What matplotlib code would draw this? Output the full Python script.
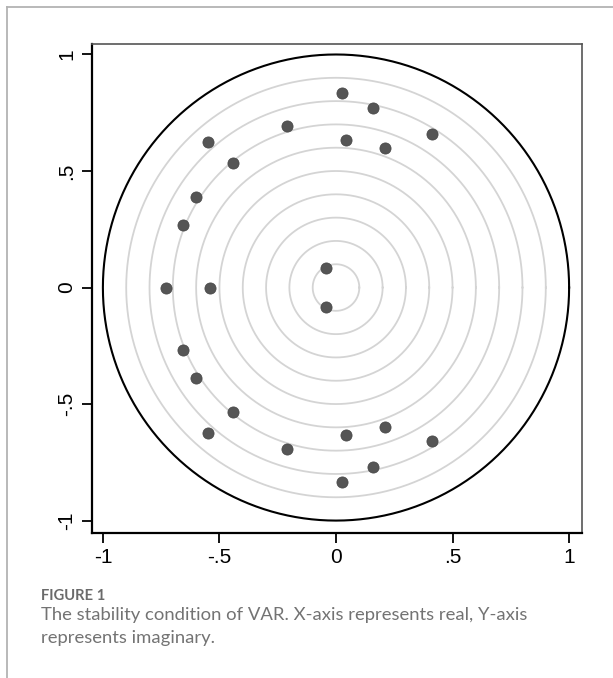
import numpy as np
import matplotlib
matplotlib.use("Agg")
import matplotlib.pyplot as plt
from matplotlib.lines import Line2D

# Eigenvalues of the VAR companion matrix (real part, imaginary part)
root_real = [0.027, 0.157, 0.044, 0.211, 0.411, -0.210, -0.551, -0.441, -0.602, -0.658, -0.044,
             -0.731, -0.541,
             0.027, 0.157, 0.044, 0.211, 0.411, -0.210, -0.551, -0.441, -0.602, -0.658, -0.044]
root_imag = [0.834, 0.769, 0.634, 0.598, 0.658, 0.692, 0.623, 0.534, 0.387, 0.267, 0.084,
             0.0, 0.0,
             -0.834, -0.769, -0.634, -0.598, -0.658, -0.692, -0.623, -0.534, -0.387, -0.267, -0.084]

ring_radii = [0.1, 0.2, 0.3, 0.4, 0.5, 0.6, 0.7, 0.8, 0.9]
tick_values = [-1, -0.5, 0, 0.5, 1]
tick_labels = ["-1", "-.5", "0", ".5", "1"]

caption_head = "FIGURE 1"
caption_lines = ["The stability condition of VAR. X-axis represents real, Y-axis",
                 "represents imaginary."]

W, H = 613, 678
fig = plt.figure(figsize=(W / 100, H / 100), dpi=100)
fig.patch.set_facecolor("white")

ax = fig.add_axes([91.7 / W, 1 - 532.7 / H, 490 / W, 488.7 / H])
ax.set_xlim(-1.048, 1.054)
ax.set_ylim(-1.052, 1.045)

theta = np.linspace(0, 2 * np.pi, 721)
for r in ring_radii:
    ax.plot(r * np.cos(theta), r * np.sin(theta), color="#d4d4d4", lw=1.3, zorder=1)
ax.plot(np.cos(theta), np.sin(theta), color="black", lw=1.5, zorder=2)

ax.scatter(root_real, root_imag, s=64, color="#555555", edgecolors="#4a4a4a",
           linewidths=0.6, zorder=3)

tick_font = dict(family="Liberation Sans", size=15)
ax.set_xticks(tick_values)
ax.set_xticklabels(tick_labels, **tick_font)
ax.set_yticks(tick_values)
ax.set_yticklabels(tick_labels, rotation=90, va="center", **tick_font)
ax.tick_params(axis="both", direction="out", length=7, width=1.3, color="black")
ax.tick_params(axis="x", pad=4)
ax.tick_params(axis="y", pad=4)

for side in ("left", "bottom"):
    ax.spines[side].set_color("black")
    ax.spines[side].set_linewidth(1.6)
for side in ("top", "right"):
    ax.spines[side].set_color("#555555")
    ax.spines[side].set_linewidth(1.2)

# panel frame
fig.add_artist(Line2D([7 / W, 1], [1 - 7 / H, 1 - 7 / H], transform=fig.transFigure,
                      color="#b3b3b3", lw=1.3))
fig.add_artist(Line2D([7 / W, 7 / W], [0, 1 - 7 / H], transform=fig.transFigure,
                      color="#b3b3b3", lw=1.3))

# caption
fig.text(41 / W, 1 - 600 / H, caption_head, family="Lato", weight="bold",
         size=10.6, color="#6a6a6a", va="baseline", ha="left")
fig.text(41 / W, 1 - 620 / H, caption_lines[0], family="Lato", size=13.3,
         color="#737373", va="baseline", ha="left")
fig.text(41 / W, 1 - 643 / H, caption_lines[1], family="Lato", size=13.3,
         color="#737373", va="baseline", ha="left")

fig.savefig("out.png", dpi=100, facecolor="white")
